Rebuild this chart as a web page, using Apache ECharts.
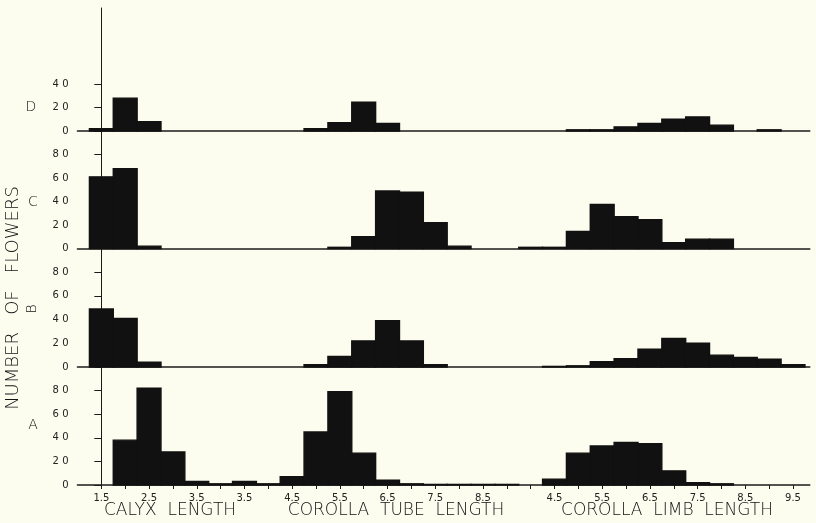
<!DOCTYPE html>
<html><head><meta charset="utf-8">
<script src="https://cdn.jsdelivr.net/npm/echarts@6/dist/echarts.min.js"></script>
<style>html,body{margin:0;padding:0;background:#fcfcef;} #c{width:816px;height:523px;}</style>
</head><body><div id="c"></div>
<script>
// bin index 0..29 (each bin 0.5 mm wide), three measurement groups share one axis
const binLabels = ['1.5','','2.5','','3.5','','3.5','','4.5','','5.5','','6.5','','7.5','','8.5','','','4.5','','5.5','','6.5','','7.5','','8.5','','9.5'];
const groupTitles = ['CALYX  LENGTH', 'COROLLA  TUBE  LENGTH', 'COROLLA  LIMB  LENGTH'];
const panelNames = ['D', 'C', 'B', 'A'];
const yTicksFull = [0, 20, 40, 60, 80];
const yTicksD = [0, 20, 40];

const seriesD = [2,28,8,0,0,0,0,0,0,2,7,24.5,6.5,0,0,0,0,0,0,0,1,1,3.5,6.5,10,12,5,0,1,0];
const seriesC = [61,68,2,0,0,0,0,0,0,0,1,10,49,48,22,2,0,0,1,1,14.5,37.5,27,24.5,5,8,8,0,0,0];
const seriesB = [49,41,4,0,0,0,0,0,0,2,9,22,39,22,2,0,0,0,0,0.5,1,4.5,7,15,24,20,10,8,6.5,2];
const seriesA = [0,38,82,28,3,1,3,1,7,45,79,27,4,1,0.5,0.5,0.5,0.5,0,5,27,33,36,35,12,2,1,0,0,0];

const panelData = [seriesD, seriesC, seriesB, seriesA];
const panelGrid = [
  {top: 8, height: 123, max: 104.7},
  {top: 131, height: 117.5, max: 100},
  {top: 248.5, height: 118.5, max: 100},
  {top: 367, height: 118, max: 100}
];

const ink = '#1a1a1a';
const bg = '#fcfcef';
const FONT = 'DejaVu Sans';
const labelBins = binLabels.map((s, i) => s ? i : -1).filter(i => i >= 0);
const allBins = binLabels.map((s, i) => i);

const chart = echarts.init(document.getElementById('c'), null, {renderer: 'canvas'});

const grids = [], xAxes = [], yAxes = [], series = [];
panelGrid.forEach((g, k) => {
  const bottom = k === 3;
  grids.push({left: 77.5, width: 732.2, top: g.top, height: g.height});
  xAxes.push({
    type: 'value', gridIndex: k, min: -1, max: 29.7, interval: 1,
    splitLine: {show: false},
    axisLine: {show: true, onZero: false, lineStyle: {color: ink, width: 1.6}},
    axisTick: {show: bottom, length: 4, inside: false, customValues: allBins, lineStyle: {color: ink, width: 1}},
    axisLabel: {show: bottom, customValues: labelBins, margin: 8, color: '#222', fontSize: 10, fontFamily: FONT,
      formatter: v => binLabels[Math.round(v)] || ''}
  });
  yAxes.push({
    type: 'value', gridIndex: k, min: 0, max: g.max,
    splitLine: {show: false},
    axisLine: {show: true, lineStyle: {color: ink, width: 1}},
    axisTick: {show: true, length: 7, customValues: k === 0 ? yTicksD : yTicksFull, lineStyle: {color: ink, width: 1}},
    axisLabel: {show: true, customValues: k === 0 ? yTicksD : yTicksFull, margin: 9, color: '#222', fontSize: 10, fontFamily: FONT,
      formatter: v => String(v).split('').join(' ')}
  });
  series.push({
    type: 'custom', xAxisIndex: k, yAxisIndex: k, silent: true,
    data: panelData[k].map((v, i) => [i, v]),
    renderItem: (params, api) => {
      const x = api.value(0), y = api.value(1);
      if (!y) return null;
      const p0 = api.coord([x - 0.5, y]);
      const p1 = api.coord([x + 0.5, 0]);
      return {type: 'rect', shape: {x: p0[0], y: p0[1], width: p1[0] - p0[0], height: p1[1] - p0[1]},
        style: {fill: '#111', stroke: '#111', lineWidth: 1.4}};
    }
  });
});

const txt = {fill: '#111', fontFamily: FONT, fontWeight: 200};
const graphic = [
  {type: 'text', x: 13, y: 298, rotation: Math.PI / 2, style: Object.assign({text: 'NUMBER   OF   FLOWERS', fontSize: 18, align: 'center', verticalAlign: 'middle'}, txt)},
  {type: 'text', x: 31, y: 107, style: Object.assign({text: panelNames[0], fontSize: 14, align: 'center', verticalAlign: 'middle'}, txt)},
  {type: 'text', x: 33, y: 202, style: Object.assign({text: panelNames[1], fontSize: 14, align: 'center', verticalAlign: 'middle'}, txt)},
  {type: 'text', x: 32, y: 309, rotation: Math.PI / 2, style: Object.assign({text: panelNames[2], fontSize: 14, align: 'center', verticalAlign: 'middle'}, txt)},
  {type: 'text', x: 33, y: 425, style: Object.assign({text: panelNames[3], fontSize: 14, align: 'center', verticalAlign: 'middle'}, txt)},
  {type: 'text', x: 170, y: 511, style: Object.assign({text: groupTitles[0], fontSize: 17, align: 'center', verticalAlign: 'middle'}, txt)},
  {type: 'text', x: 396, y: 511, style: Object.assign({text: groupTitles[1], fontSize: 17, align: 'center', verticalAlign: 'middle'}, txt)},
  {type: 'text', x: 667, y: 511, style: Object.assign({text: groupTitles[2], fontSize: 17, align: 'center', verticalAlign: 'middle'}, txt)}
];

chart.setOption({
  backgroundColor: bg,
  animation: false,
  grid: grids, xAxis: xAxes, yAxis: yAxes, series: series, graphic: graphic
});
</script></body></html>
